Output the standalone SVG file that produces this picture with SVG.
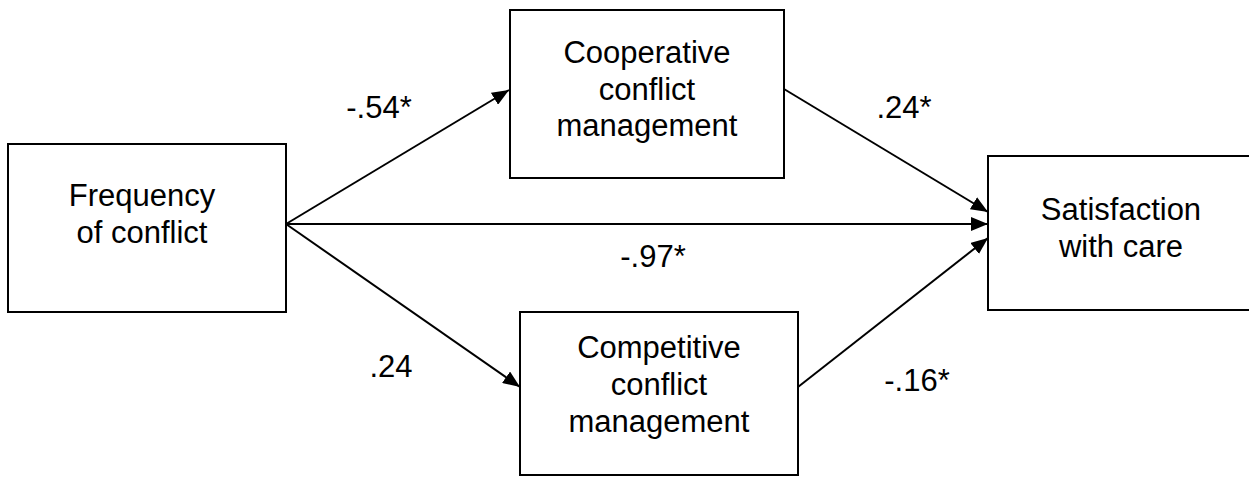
<svg xmlns="http://www.w3.org/2000/svg" width="1249" height="477" viewBox="0 0 1249 477">
<style>
.box{fill:#fff;stroke:#000;stroke-width:2}
.t{font-family:"Liberation Sans",Arial,sans-serif;font-size:31px;fill:#000;text-anchor:middle}
.c{stroke:#000;stroke-width:2;fill:none;marker-end:url(#ah)}
</style>
<defs>
<marker id="ah" markerUnits="userSpaceOnUse" markerWidth="18" markerHeight="14" refX="17" refY="7" orient="auto" viewBox="0 0 18 14">
<path d="M0,0 L17,7 L0,14 z" fill="#000"/>
</marker>
</defs>
<rect width="1249" height="477" fill="#fff"/>
<g id="connectors">
<line class="c" x1="286" y1="224" x2="509" y2="90"/>
<line class="c" x1="286" y1="224" x2="988" y2="224"/>
<line class="c" x1="286" y1="224" x2="520" y2="387"/>
<line class="c" x1="784" y1="89" x2="988" y2="212"/>
<line class="c" x1="798" y1="387" x2="988" y2="238"/>
<text class="t" x="379" y="118">-.54*</text>
<text class="t" x="904" y="118">.24*</text>
<text class="t" x="653" y="267">-.97*</text>
<text class="t" x="391" y="377">.24</text>
<text class="t" x="917" y="391">-.16*</text>
</g>
<g id="freq">
<rect class="box" x="8" y="144" width="278" height="168"/>
<text class="t" x="142" y="206">Frequency</text>
<text class="t" x="142" y="243">of conflict</text>
</g>
<g id="coop">
<rect class="box" x="510" y="10" width="274" height="168"/>
<text class="t" x="647" y="63">Cooperative</text>
<text class="t" x="647" y="100">conflict</text>
<text class="t" x="647" y="136">management</text>
</g>
<g id="comp">
<rect class="box" x="520" y="312" width="278" height="163"/>
<text class="t" x="659" y="358">Competitive</text>
<text class="t" x="659" y="395">conflict</text>
<text class="t" x="659" y="432">management</text>
</g>
<g id="sat">
<rect class="box" x="988" y="156" width="264" height="154"/>
<text class="t" x="1121" y="220">Satisfaction</text>
<text class="t" x="1121" y="257">with care</text>
</g>
</svg>
